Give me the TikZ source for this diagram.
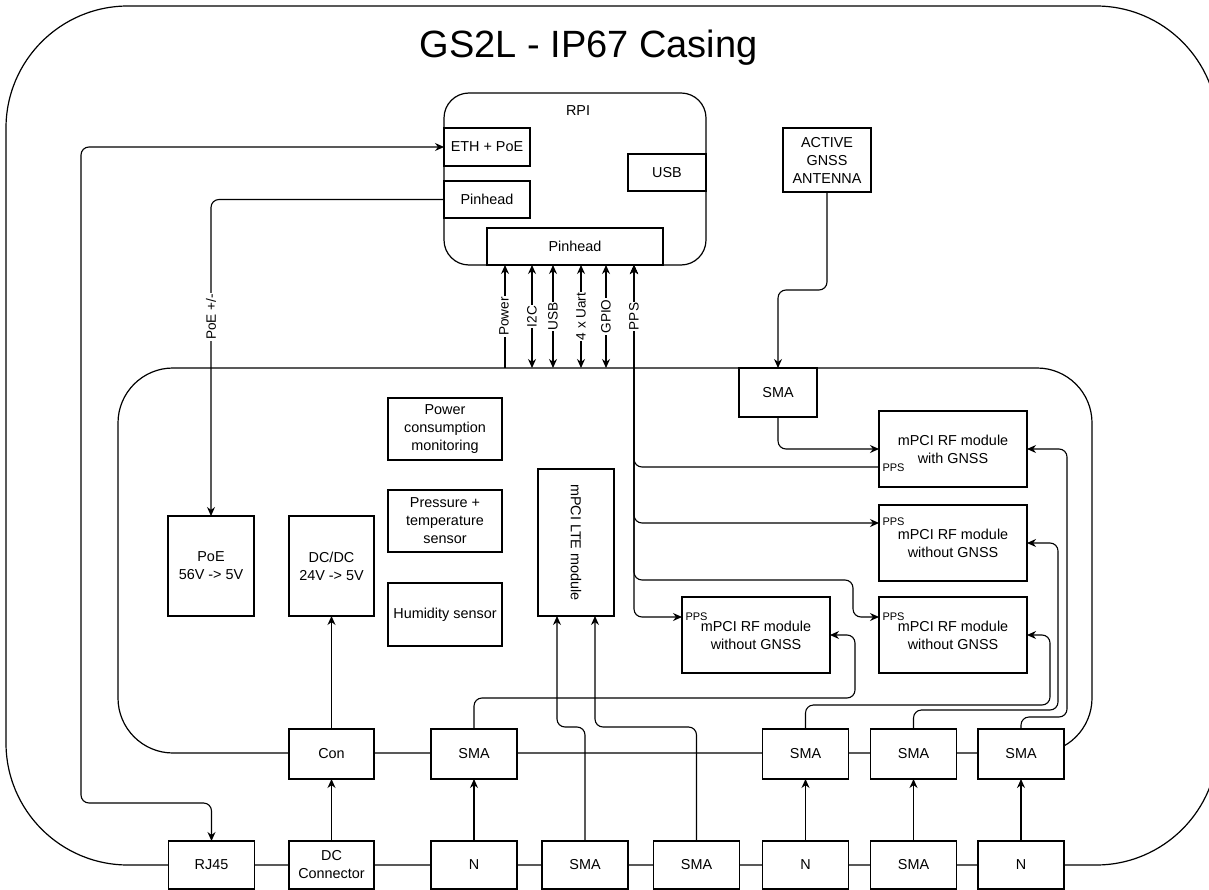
\documentclass[tikz,border=0pt]{standalone}
\usepackage{fontspec}
\setmainfont{Liberation Sans}
\usetikzlibrary{arrows.meta}
\newcommand\fsbox{\fontsize{14.4}{18}\selectfont}
\newcommand\fslab{\fontsize{13.6}{15}\selectfont}
\newcommand\fspps{\fontsize{11}{13}\selectfont}
\newcommand\fstitle{\fontsize{38}{44}\selectfont}
\begin{document}
\begin{tikzpicture}[x=1pt,y=-1pt,
  line width=1.1pt,
  >={Stealth[length=9pt,width=8pt]},
  box/.style={draw, line width=1.2pt, fill=white, align=center, inner sep=0pt, outer sep=0pt, font=\fsbox},
  encl/.style={draw, line width=1.2pt, inner sep=0pt, outer sep=0pt},
  conn/.style={rounded corners=8pt},
  vlabel/.style={fill=white, rotate=90, inner sep=1pt, font=\fslab},
  ppslabel/.style={anchor=west, inner sep=0pt, font=\fspps},
]
\useasboundingbox (0,0) rectangle (1209,890);

% enclosures
\node[encl, rounded corners=122pt, minimum width=1212pt, minimum height=859pt] (casing) at (612,435.5) {};
\node[anchor=base, font=\fstitle] (title) at (588.5,58) {GS2L - IP67 Casing};
\node[encl, rounded corners=55pt, minimum width=974pt, minimum height=385pt] (board) at (605,560.5) {};
\node[encl, rounded corners=25pt, minimum width=262pt, minimum height=172pt] (rpi) at (575,179) {};
\node[font=\fsbox] (rpilbl) at (578,111) {RPI};

% RPI parts
\node[box, minimum width=86pt, minimum height=38pt] (eth) at (487,147) {ETH + PoE};
\node[box, minimum width=86pt, minimum height=37pt] (pinl) at (487,199.5) {Pinhead};
\node[box, minimum width=78pt, minimum height=37pt] (usb) at (667,172.5) {USB};
\node[box, minimum width=176pt, minimum height=37pt] (pinb) at (575,246.5) {Pinhead};

% antenna
\node[box, minimum width=88pt, minimum height=64pt] (ant) at (827,160) {ACTIVE\\GNSS\\ANTENNA};
\node[box, minimum width=78pt, minimum height=49pt] (smat) at (778,392.5) {SMA};

% board contents
\node[box, minimum width=114pt, minimum height=62pt] (pcm) at (445,429) {Power\\consumption\\monitoring};
\node[box, minimum width=114pt, minimum height=62pt] (pts) at (445,521) {Pressure +\\temperature\\sensor};
\node[box, minimum width=114pt, minimum height=63pt] (hum) at (445,614.5) {Humidity sensor};
\node[box, minimum width=86pt, minimum height=100pt] (poe) at (211,566) {PoE\\56V -> 5V};
\node[box, minimum width=85pt, minimum height=100pt] (dcdc) at (331.5,566) {DC/DC\\24V -> 5V};
\node[box, minimum width=76pt, minimum height=147pt] (lte) at (576,542.5) {};
\node[rotate=-90, font=\fsbox, inner sep=0pt] (ltelbl) at (lte.center) {mPCI LTE module};
\node[box, minimum width=148pt, minimum height=76pt] (rf1) at (953,449) {mPCI RF module\\with GNSS};
\node[box, minimum width=148pt, minimum height=76pt] (rf2) at (953,543) {mPCI RF module\\without GNSS};
\node[box, minimum width=148pt, minimum height=76pt] (rf3) at (756,635) {mPCI RF module\\without GNSS};
\node[box, minimum width=148pt, minimum height=76pt] (rf4) at (953,635) {mPCI RF module\\without GNSS};

% middle row
\node[box, minimum width=85pt, minimum height=50pt] (con) at (331.5,754) {Con};
\node[box, minimum width=86pt, minimum height=50pt] (smam1) at (474,754) {SMA};
\node[box, minimum width=86pt, minimum height=50pt] (smam2) at (805.5,754) {SMA};
\node[box, minimum width=86pt, minimum height=50pt] (smam3) at (913.5,754) {SMA};
\node[box, minimum width=86pt, minimum height=50pt] (smam4) at (1021,754) {SMA};

% bottom row
\node[box, minimum width=86pt, minimum height=48pt] (rj45) at (211.5,865) {RJ45};
\node[box, minimum width=85pt, minimum height=48pt] (dcc) at (331.5,865) {DC\\Connector};
\node[box, minimum width=86pt, minimum height=48pt] (nb1) at (474,865) {N};
\node[box, minimum width=86pt, minimum height=48pt] (smab1) at (585,865) {SMA};
\node[box, minimum width=86pt, minimum height=48pt] (smab2) at (696.5,865) {SMA};
\node[box, minimum width=86pt, minimum height=48pt] (nb2) at (805.5,865) {N};
\node[box, minimum width=86pt, minimum height=48pt] (smab3) at (913.5,865) {SMA};
\node[box, minimum width=86pt, minimum height=48pt] (nb3) at (1021,865) {N};

% RPI connections
\draw[conn,<->] (eth.west) -| (81,803) -| (rj45.north);
\draw[conn,->] (pinl.west) -| (poe.north);
\node[vlabel] (lpoe) at (211,317) {PoE +/-};

\coordinate (cpw) at ([xshift=-70pt]pinb.south);
\coordinate (ci2c) at ([xshift=-43pt]pinb.south);
\coordinate (cusb) at ([xshift=-22pt]pinb.south);
\coordinate (cuart) at ([xshift=6pt]pinb.south);
\coordinate (cgpio) at ([xshift=31pt]pinb.south);
\coordinate (ppsT) at ([xshift=59pt]pinb.south);

\draw[<-] (cpw) -- (cpw |- board.north);
\draw[<->] (ci2c) -- (ci2c |- board.north);
\draw[<->] (cusb) -- (cusb |- board.north);
\draw[<->] (cuart) -- (cuart |- board.north);
\draw[<->] (cgpio) -- (cgpio |- board.north);

% PPS
\draw[conn,<-] (ppsT) |- ([yshift=-18pt]rf1.west);
\draw[conn,<->] (ppsT) |- ([yshift=20pt]rf2.west);
\draw[conn,<->] (ppsT) |- (853,580) |- ([yshift=18pt]rf4.west);
\draw[conn,<->] (ppsT) |- ([yshift=18pt]rf3.west);

\node[vlabel] (lpw) at (504,316.5) {Power};
\node[vlabel] (li2c) at (532,316.5) {I2C};
\node[vlabel] (lusb) at (553,316.5) {USB};
\node[vlabel] (luart) at (581,316.5) {4 x Uart};
\node[vlabel] (lgpio) at (606,316.5) {GPIO};
\node[vlabel] (lpps) at (634,316.5) {PPS};

\node[ppslabel] (p1) at ([xshift=3pt,yshift=-19pt]rf1.west) {PPS};
\node[ppslabel] (p2) at ([xshift=3pt,yshift=21pt]rf2.west) {PPS};
\node[ppslabel] (p3) at ([xshift=3pt,yshift=18pt]rf3.west) {PPS};
\node[ppslabel] (p4) at ([xshift=3pt,yshift=18pt]rf4.west) {PPS};

% antenna
\draw[conn,->] (ant.south) |- (778,290) -- (smat.north);
\draw[conn,->] (smat.south) |- (rf1.west);

% vertical feeds
\draw[->] (dcc.north) -- (con.south);
\draw[->] (con.north) -- (dcdc.south);
\draw[->] (nb1.north) -- (smam1.south);
\draw[->] (nb2.north) -- (smam2.south);
\draw[->] (smab3.north) -- (smam3.south);
\draw[->] (nb3.north) -- (smam4.south);

% LTE
\coordinate (lteA) at ([xshift=-19pt]lte.south);
\coordinate (lteB) at ([xshift=19pt]lte.south);
\draw[conn,->] (smab1.north) |- (557,727) -- (lteA);
\draw[conn,->] (smab2.north) |- (595,727) -- (lteB);

% RF antennas
\draw[conn,->] (smam1.north) |- (855,698) |- (rf3.east);
\draw[conn,->] (smam2.north) |- (1050,705) |- (rf4.east);
\draw[conn,->] (smam3.north) |- (1058,710) |- (rf2.east);
\draw[conn,->] (smam4.north) |- (1067,717) |- (rf1.east);
\end{tikzpicture}
\end{document}
